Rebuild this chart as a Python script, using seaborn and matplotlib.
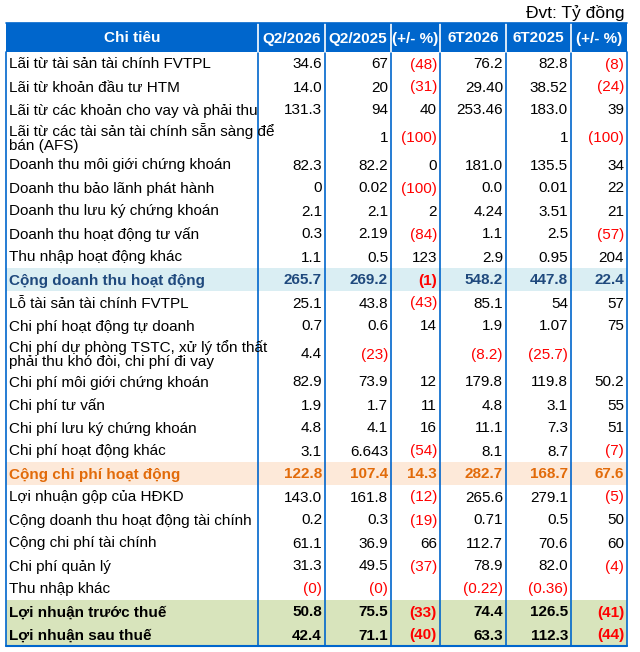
import matplotlib
matplotlib.use("Agg")
import matplotlib.pyplot as plt
import seaborn as sns
from matplotlib.patches import Rectangle

sns.set_theme(style="white")
plt.rcParams['font.family'] = ['Liberation Sans Narrow', 'Liberation Sans', 'DejaVu Sans']

headers = ["Chi tiêu", "Q2/2026", "Q2/2025", "(+/- %)", "6T2026", "6T2025", "(+/- %)"]
labels = [
    "Lãi từ tài sản tài chính FVTPL", "Lãi từ khoản đầu tư HTM",
    "Lãi từ các khoản cho vay và phải thu",
    "Lãi từ các tài sản tài chính sẵn sàng để\nbán (AFS)",
    "Doanh thu môi giới chứng khoán", "Doanh thu bảo lãnh phát hành",
    "Doanh thu lưu ký chứng khoán", "Doanh thu hoạt động tư vấn",
    "Thu nhập hoạt động khác", "Cộng doanh thu hoạt động",
    "Lỗ tài sản tài chính FVTPL", "Chi phí hoạt động tự doanh",
    "Chi phí dự phòng TSTC, xử lý tổn thất\nphải thu khó đòi, chi phí đi vay",
    "Chi phí môi giới chứng khoán", "Chi phí tư vấn", "Chi phí lưu ký chứng khoán",
    "Chi phí hoạt động khác", "Cộng chi phí hoạt động", "Lợi nhuận gộp của HĐKD",
    "Cộng doanh thu hoạt động tài chính", "Cộng chi phí tài chính", "Chi phí quản lý",
    "Thu nhập khác", "Lợi nhuận trước thuế", "Lợi nhuận sau thuế",
]
q2_2026 = ["34.6", "14.0", "131.3", "", "82.3", "0", "2.1", "0.3", "1.1", "265.7", "25.1", "0.7", "4.4",
           "82.9", "1.9", "4.8", "3.1", "122.8", "143.0", "0.2", "61.1", "31.3", "(0)", "50.8", "42.4"]
q2_2025 = ["67", "20", "94", "1", "82.2", "0.02", "2.1", "2.19", "0.5", "269.2", "43.8", "0.6", "(23)",
           "73.9", "1.7", "4.1", "6.643", "107.4", "161.8", "0.3", "36.9", "49.5", "(0)", "75.5", "71.1"]
chg_q = ["(48)", "(31)", "40", "(100)", "0", "(100)", "2", "(84)", "123", "(1)", "(43)", "14", "",
         "12", "11", "16", "(54)", "14.3", "(12)", "(19)", "66", "(37)", "", "(33)", "(40)"]
h1_2026 = ["76.2", "29.40", "253.46", "", "181.0", "0.0", "4.24", "1.1", "2.9", "548.2", "85.1", "1.9", "(8.2)",
           "179.8", "4.8", "11.1", "8.1", "282.7", "265.6", "0.71", "112.7", "78.9", "(0.22)", "74.4", "63.3"]
h1_2025 = ["82.8", "38.52", "183.0", "1", "135.5", "0.01", "3.51", "2.5", "0.95", "447.8", "54", "1.07", "(25.7)",
           "119.8", "3.1", "7.3", "8.7", "168.7", "279.1", "0.5", "70.6", "82.0", "(0.36)", "126.5", "112.3"]
chg_h = ["(8)", "(24)", "39", "(100)", "34", "22", "21", "(57)", "204", "22.4", "57", "75", "",
         "50.2", "55", "51", "(7)", "67.6", "(5)", "50", "60", "(4)", "", "(41)", "(44)"]
columns = [q2_2026, q2_2025, chg_q, h1_2026, h1_2025, chg_h]

col_edges = [6, 258, 325, 391, 440, 506, 571, 627]
row_heights = [23, 23, 23, 32, 23, 23, 23, 23, 23, 23, 23, 23, 33, 23, 23, 23, 23, 23, 23, 23, 23, 23, 23, 23, 23]
BLUE = "#0066CC"

fig = plt.figure(figsize=(6.4, 6.52), dpi=100)
ax = fig.add_axes([0, 0, 1, 1])
ax.set_xlim(0, 640)
ax.set_ylim(652, 0)
ax.axis("off")

ax.text(625, 13, "Đvt: Tỷ đồng", ha="right", va="center", fontsize=12.5, color="black")

# header
top, hbot = 23, 52
ax.add_patch(Rectangle((col_edges[0], top), col_edges[-1] - col_edges[0], hbot - top, color=BLUE, lw=0))
for i, h in enumerate(headers):
    xc = (col_edges[i] + col_edges[i + 1]) / 2
    ax.text(xc, (top + hbot) / 2 + 1, h, ha="center", va="center", fontsize=11,
            color="white", fontweight="bold")

styles = {9: ("#DAEEF3", "#1F497D"), 17: ("#FDE9D9", "#E26B0A"),
          23: ("#D8E4BC", "black"), 24: ("#D8E4BC", "black")}

y = hbot
for r, lab in enumerate(labels):
    h = row_heights[r]
    bg, fg = styles.get(r, (None, "black"))
    bold = r in styles
    if bg:
        ax.add_patch(Rectangle((col_edges[0], y), col_edges[-1] - col_edges[0], h, color=bg, lw=0))
    yc = y + h / 2 + 1
    ax.text(col_edges[0] + 3, yc, lab, ha="left", va="center", fontsize=11, color=fg,
            fontweight="bold" if bold else "normal", linespacing=1.05)
    for c, col in enumerate(columns):
        v = col[r]
        if not v:
            continue
        color = "red" if v.startswith("(") else fg
        ax.text(col_edges[c + 2] - 3, yc, v, ha="right", va="center", fontsize=11, color=color,
                fontweight="bold" if bold else "normal")
    y += h
bottom = y

for i, xe in enumerate(col_edges):
    ax.plot([xe, xe], [hbot, bottom], color=BLUE, lw=1.2)
    if 0 < i < len(col_edges) - 1:
        ax.plot([xe, xe], [top, hbot], color="white", lw=1.2)
ax.plot([col_edges[0], col_edges[-1]], [bottom, bottom], color=BLUE, lw=1.5)
ax.plot([col_edges[0], col_edges[-1]], [top, top], color=BLUE, lw=1.2)

fig.savefig("out.png", dpi=100)
